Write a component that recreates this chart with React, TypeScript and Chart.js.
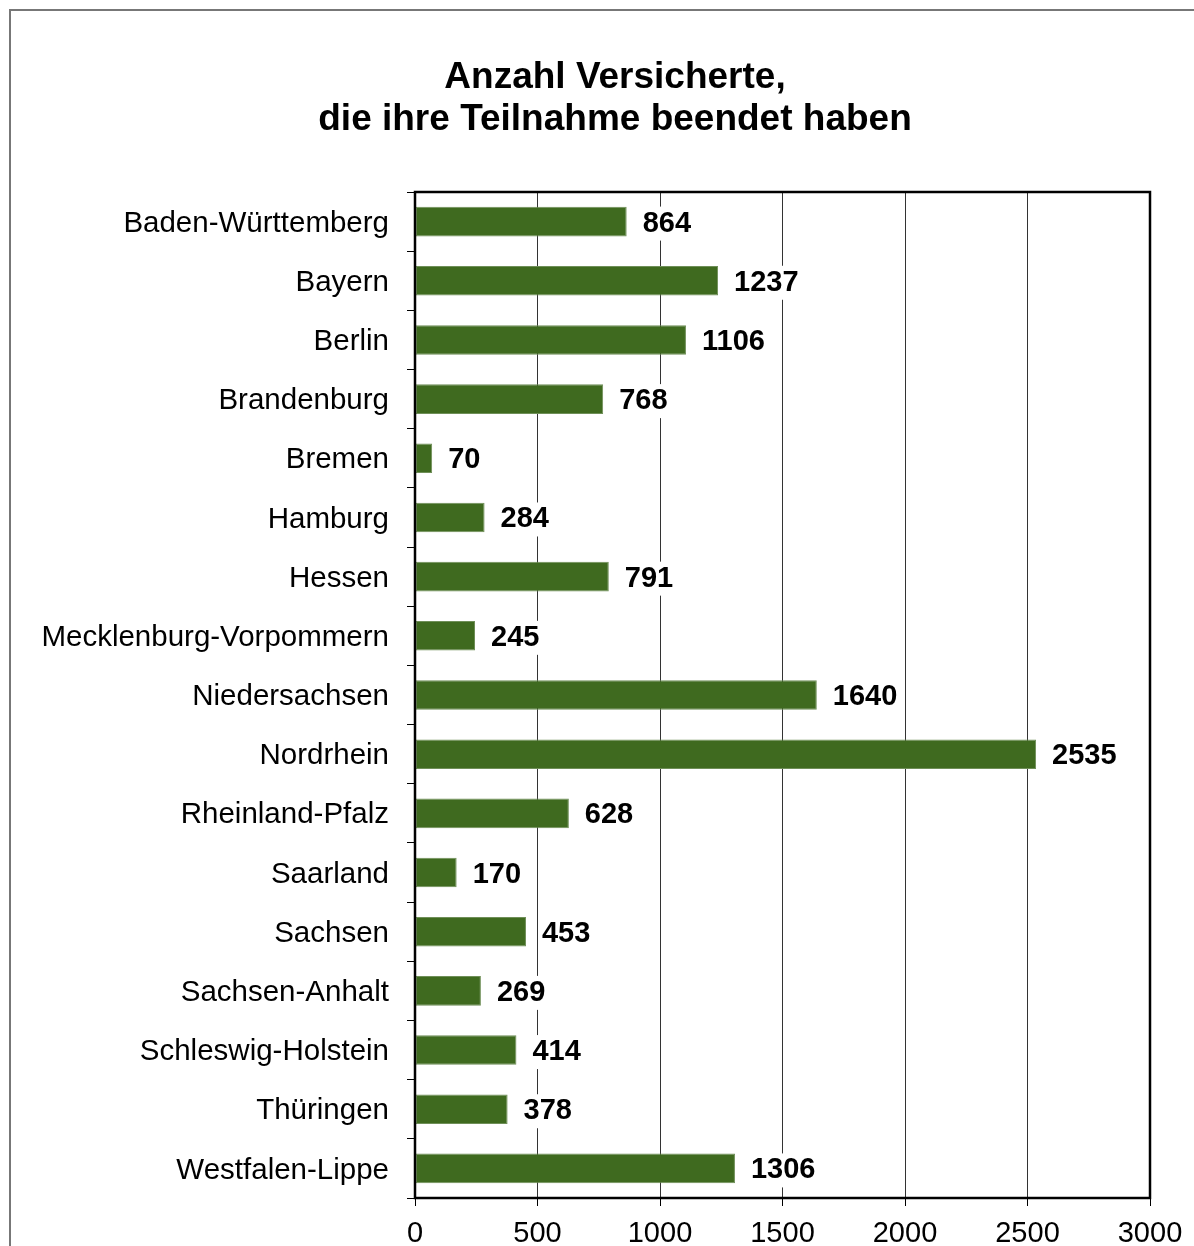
import React, { useEffect, useRef } from "react";
import { Chart, registerables } from "chart.js";

Chart.register(...registerables);

const categories = [
  "Baden-Württemberg",
  "Bayern",
  "Berlin",
  "Brandenburg",
  "Bremen",
  "Hamburg",
  "Hessen",
  "Mecklenburg-Vorpommern",
  "Niedersachsen",
  "Nordrhein",
  "Rheinland-Pfalz",
  "Saarland",
  "Sachsen",
  "Sachsen-Anhalt",
  "Schleswig-Holstein",
  "Thüringen",
  "Westfalen-Lippe",
];
const values = [864, 1237, 1106, 768, 70, 284, 791, 245, 1640, 2535, 628, 170, 453, 269, 414, 378, 1306];
const titleLines = ["Anzahl Versicherte,", "die ihre Teilnahme beendet haben"];
const xMin = 0;
const xMax = 3000;
const xStep = 500;

const FONT = "'Liberation Sans', Arial, sans-serif";

const decorPlugin = {
  id: "decor",
  beforeDraw(chart: any) {
    const ctx = chart.ctx;
    ctx.save();
    ctx.fillStyle = "#ffffff";
    ctx.fillRect(0, 0, chart.width, chart.height);
    // outer frame
    ctx.strokeStyle = "#777777";
    ctx.lineWidth = 2;
    ctx.beginPath();
    ctx.moveTo(10, chart.height + 5);
    ctx.lineTo(10, 10);
    ctx.lineTo(chart.width + 5, 10);
    ctx.stroke();
    // title
    ctx.fillStyle = "#000000";
    ctx.font = `bold 37px ${FONT}`;
    ctx.textAlign = "center";
    ctx.textBaseline = "middle";
    ctx.fillText(titleLines[0], 615, 78);
    ctx.fillText(titleLines[1], 615, 120);
    ctx.restore();
  },
  afterDatasetsDraw(chart: any) {
    const ctx = chart.ctx;
    const meta = chart.getDatasetMeta(0);
    ctx.save();
    ctx.font = `bold 29px ${FONT}`;
    ctx.textAlign = "left";
    ctx.textBaseline = "middle";
    meta.data.forEach((bar: any, i: number) => {
      const txt = String(values[i]);
      const x = bar.x + 16;
      const y = bar.y + 2;
      const w = ctx.measureText(txt).width;
      ctx.fillStyle = "#ffffff";
      ctx.fillRect(x - 3, y - 17, w + 6, 34);
      ctx.fillStyle = "#000000";
      ctx.fillText(txt, x, y);
    });
    const a = chart.chartArea;
    ctx.strokeStyle = "#000000";
    ctx.lineWidth = 2.5;
    ctx.strokeRect(a.left, a.top, a.right - a.left, a.bottom - a.top);
    ctx.restore();
  },
};

export default function App() {
  const ref = useRef<HTMLCanvasElement | null>(null);

  useEffect(() => {
    document.body.style.margin = "0";
    const canvas = ref.current;
    if (!canvas) return;
    const chart = new Chart(canvas, {
      type: "bar",
      data: {
        labels: categories,
        datasets: [
          {
            data: values,
            backgroundColor: "#3f6a1f",
            borderColor: "#6f8f58",
            borderWidth: 1,
            borderSkipped: false,
            barPercentage: 0.5,
            categoryPercentage: 1,
          },
        ],
      },
      options: {
        indexAxis: "y",
        responsive: false,
        animation: false,
        devicePixelRatio: 1,
        layout: { padding: { top: 192, left: 0, right: 44, bottom: 0 } },
        plugins: {
          legend: { display: false },
          title: { display: false },
          tooltip: { enabled: false },
        },
        scales: {
          x: {
            min: xMin,
            max: xMax,
            ticks: {
              stepSize: xStep,
              color: "#000000",
              font: { family: FONT, size: 29 },
              padding: 11,
              maxRotation: 0,
              callback: (v: any) => String(v),
            },
            grid: {
              color: "#333333",
              lineWidth: 1,
              tickLength: 8,
              tickColor: "#000000",
            },
            border: { display: false },
            afterFit(scale: any) {
              scale.height = 48;
            },
          },
          y: {
            ticks: {
              color: "#000000",
              font: { family: FONT, size: 29.5 },
              padding: 18,
              autoSkip: false,
              labelOffset: 2,
            },
            grid: {
              offset: true,
              drawOnChartArea: false,
              drawTicks: true,
              tickLength: 8,
              tickColor: "#000000",
              lineWidth: 1,
            },
            border: { display: false },
            afterFit(scale: any) {
              scale.width = 415;
            },
          },
        },
      },
      plugins: [decorPlugin],
    });
    return () => chart.destroy();
  }, []);

  return (
    <div style={{ width: 1194, height: 1246, overflow: "hidden" }}>
      <canvas ref={ref} width={1194} height={1246} style={{ display: "block" }} />
    </div>
  );
}
